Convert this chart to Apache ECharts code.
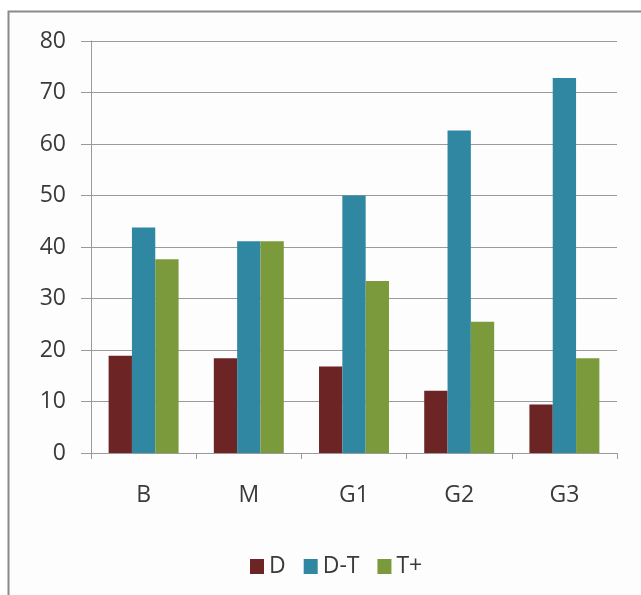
<!DOCTYPE html>
<html>
<head>
<meta charset="utf-8">
<script src="https://cdn.jsdelivr.net/npm/echarts@6/dist/echarts.min.js"></script>
<style>
  html, body { margin: 0; padding: 0; background: #ffffff; }
  #chart { width: 641px; height: 595px; }
</style>
</head>
<body>
<div id="chart"></div>
<script>
// Category labels along the x axis
const categories = ['B', 'M', 'G1', 'G2', 'G3'];

// Series values
const seriesD  = [18.9, 18.4, 16.8, 12.1, 9.4];
const seriesDT = [43.8, 41.1, 50.0, 62.6, 72.8];
const seriesTP = [37.6, 41.1, 33.4, 25.5, 18.4];

// Value axis range
const yMin = 0;
const yMax = 80;
const yStep = 10;

const textColor = '#3a3a3a';
const lineColor = '#9a9a9a';
const fontFamily = '"Open Sans", "Noto Sans", sans-serif';

const chart = echarts.init(document.getElementById('chart'), null, { renderer: 'canvas' });

chart.setOption({
  animation: false,
  backgroundColor: '#ffffff',
  color: ['#6d2424', '#2f87a1', '#7b9a3b'],
  graphic: [{
    type: 'rect',
    silent: true,
    shape: { x: 8.5, y: 11.5, width: 800, height: 800 },
    style: { fill: '#fdfdfd', stroke: '#8a8a8a', lineWidth: 2 },
    z: -10
  }],
  grid: {
    left: 91,
    right: 24,
    top: 41,
    bottom: 142,
    containLabel: false
  },
  legend: {
    left: 245,
    top: 550,
    itemWidth: 14,
    itemHeight: 15,
    itemGap: 18,
    icon: 'rect',
    textStyle: { color: textColor, fontSize: 23, fontFamily: fontFamily },
    data: ['D', 'D-T', 'T+']
  },
  xAxis: {
    type: 'category',
    data: categories,
    axisLine: { show: true, lineStyle: { color: lineColor, width: 1 } },
    axisTick: { show: true, length: 6, alignWithLabel: false, lineStyle: { color: lineColor } },
    axisLabel: { color: textColor, fontSize: 23, fontFamily: fontFamily, margin: 31 },
    splitLine: { show: false }
  },
  yAxis: {
    type: 'value',
    min: yMin,
    max: yMax,
    interval: yStep,
    axisLine: { show: true, lineStyle: { color: lineColor, width: 1 } },
    axisTick: { show: true, length: 10, inside: false, lineStyle: { color: lineColor } },
    axisLabel: { color: textColor, fontSize: 23, fontFamily: fontFamily, margin: 25 },
    splitLine: { show: true, lineStyle: { color: lineColor, width: 1 } }
  },
  series: [
    { name: 'D',   type: 'bar', data: seriesD,  barGap: '0%', barCategoryGap: '33.5%' },
    { name: 'D-T', type: 'bar', data: seriesDT, barGap: '0%', barCategoryGap: '33.5%' },
    { name: 'T+',  type: 'bar', data: seriesTP, barGap: '0%', barCategoryGap: '33.5%' }
  ]
});
</script>
</body>
</html>
